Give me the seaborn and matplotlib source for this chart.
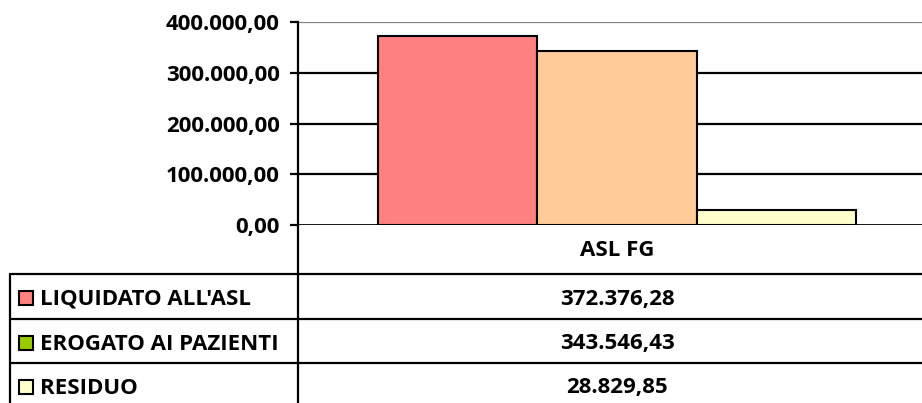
import matplotlib
matplotlib.use('Agg')
import matplotlib.pyplot as plt
import matplotlib.ticker as mticker
import seaborn as sns
import pandas as pd

# Data
categories = ['ASL FG']
series = ["LIQUIDATO ALL'ASL", 'EROGATO AI PAZIENTI', 'RESIDUO']
values = [372376.28, 343546.43, 28829.85]
bar_colors = ['#FF8080', '#FFCC99', '#FFFFCC']
legend_colors = ['#FF8080', '#99CC00', '#FFFFCC']
yticks = [0, 100000, 200000, 300000, 400000]

def fmt_it(v):
    s = f'{v:,.2f}'
    return s.replace(',', '#').replace('.', ',').replace('#', '.')

df = pd.DataFrame({'cat': categories * len(series), 'serie': series, 'val': values})

sns.set_theme(style='white')
plt.rcParams['font.family'] = ['Open Sans', 'DejaVu Sans']
plt.rcParams['font.weight'] = 'bold'
plt.rcParams['text.color'] = 'black'
plt.rcParams['ytick.color'] = 'black'
plt.rcParams['ytick.labelcolor'] = 'black'
FS = 16

W, H = 922, 403
fig = plt.figure(figsize=(W / 100, H / 100), dpi=100)

def px_box(x0, y0, x1, y1):
    return [x0 / W, 1 - y1 / H, (x1 - x0) / W, (y1 - y0) / H]

ax = fig.add_axes(px_box(298, 22, 936, 225))
sns.barplot(data=df, x='cat', y='val', hue='serie', palette=bar_colors,
            width=0.75, edgecolor='black', linewidth=1.5, saturation=1,
            legend=False, ax=ax)
ax.set_xlim(-0.5, 0.5)
ax.set_ylim(0, 400000)
ax.set_yticks(yticks)
ax.yaxis.set_major_formatter(mticker.FuncFormatter(lambda v, p: fmt_it(v)))
ax.set_xticks([])
ax.set_xlabel('')
ax.set_ylabel('')
for t in yticks[1:-1]:
    ax.axhline(t, color='black', lw=1.6, zorder=0)
ax.axhline(400000, color='#808080', lw=1.6, zorder=0)
for s in ['top', 'right', 'bottom']:
    ax.spines[s].set_visible(False)
ax.spines['left'].set_color('black')
ax.spines['left'].set_linewidth(1.6)
ax.axhline(0, color='black', lw=2, zorder=5)
ax.tick_params(axis='y', direction='out', length=6, width=1.6, color='black',
               labelcolor='black', pad=7, labelsize=FS, left=True)
for lab in ax.get_yticklabels():
    lab.set_fontweight('bold')

# Data table below the chart
tab = fig.add_axes([0, 0, 1, 1], facecolor='none')
tab.set_xlim(0, W)
tab.set_ylim(H, 0)
tab.axis('off')
lw = 1.6
tab.plot([298, 298], [225, H + 5], color='black', lw=lw)
tab.plot([10, 10], [274, H + 5], color='black', lw=lw)
row_tops = [274, 319, 363]
for y in row_tops:
    tab.plot([10, W + 5], [y, y], color='black', lw=lw)
tab.text(617, 250, categories[0], ha='center', va='center', fontsize=FS,
         fontweight='bold', color='black')
for i, (name, v, c) in enumerate(zip(series, values, legend_colors)):
    yc = row_tops[i] + 25
    tab.add_patch(plt.Rectangle((19, yc - 8), 14, 14, facecolor=c, edgecolor='black', lw=1.5))
    tab.text(40, yc, name, ha='left', va='center', fontsize=FS, fontweight='bold', color='black')
    tab.text(617, yc, fmt_it(v), ha='center', va='center', fontsize=FS,
             fontweight='bold', color='black')

fig.savefig('out.png', dpi=100)
